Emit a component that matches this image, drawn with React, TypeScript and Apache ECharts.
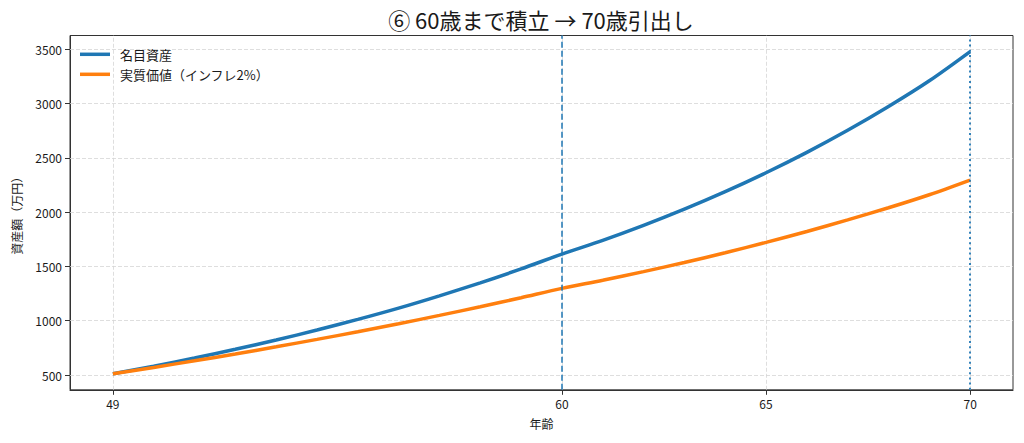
import React, { useEffect, useRef } from "react";
import * as echarts from "echarts";

const ages = [49, 50, 51, 52, 53, 54, 55, 56, 57, 58, 59, 60, 61, 62, 63, 64, 65, 66, 67, 68, 69, 70];
const nominal = [512, 582, 657, 737, 822, 914, 1012, 1116, 1229, 1349, 1477, 1614, 1740, 1878, 2027, 2188, 2362, 2550, 2753, 2972, 3209, 3478];
const real = [512, 570, 631, 694, 760, 828, 898, 972, 1049, 1128, 1212, 1298, 1372, 1452, 1536, 1626, 1721, 1821, 1928, 2040, 2160, 2295];
const xTicks = [49, 60, 65, 70];
const yTicks = [500, 1000, 1500, 2000, 2500, 3000, 3500];
const accumEndAge = 60;
const withdrawAge = 70;

const seriesNames = ["名目資産", "実質価値（インフレ2%）"];
const titleText = "⑥ 60歳まで積立 → 70歳引出し";

const FONT = '"Noto Sans CJK JP", "Noto Sans", sans-serif';
const TEXT = "#1a1a1a";

export default function App() {
  const ref = useRef<HTMLDivElement>(null);
  useEffect(() => {
    if (!ref.current) return;
    const chart = echarts.init(ref.current, undefined, { renderer: "svg" });
    const option: any = {
      animation: false,
      backgroundColor: "#ffffff",
      textStyle: { fontFamily: FONT },
      grid: {
        left: 70,
        right: 11,
        top: 35.5,
        bottom: 53.2,
        show: true,
        borderColor: "#333",
        borderWidth: 1,
        backgroundColor: "transparent",
      },
      graphic: [
        {
          type: "text",
          x: 541,
          y: 19,
          style: {
            text: titleText,
            fontSize: 22,
            fontFamily: FONT,
            fill: TEXT,
            textAlign: "center",
            textVerticalAlign: "middle",
          },
        },
      ],
      legend: {
        data: seriesNames,
        orient: "vertical",
        left: 80,
        top: 46.8,
        itemWidth: 30,
        itemHeight: 3.5,
        itemGap: 5,
        icon: "rect",
        padding: 0,
        textStyle: { fontSize: 13, color: TEXT, fontFamily: FONT, lineHeight: 15, padding: [0, 0, 0, 5] },
      },
      xAxis: {
        type: "value",
        min: 47.95,
        max: 71.05,
        name: "年齢",
        nameLocation: "middle",
        nameGap: 28,
        nameTextStyle: { fontSize: 12, color: TEXT, fontFamily: FONT },
        axisLine: { show: true, onZero: false, lineStyle: { color: "#333", width: 1 } },
        axisTick: { show: true, customValues: xTicks, length: 5, lineStyle: { color: "#333" } },
        axisLabel: { customValues: xTicks, fontSize: 12, color: TEXT, margin: 8, fontFamily: FONT, formatter: (v: number) => String(v) },
        splitLine: { show: false },
      },
      yAxis: {
        type: "value",
        min: 364,
        max: 3626,
        name: "資産額（万円）",
        nameLocation: "middle",
        nameGap: 48,
        nameTextStyle: { fontSize: 12, color: TEXT, fontFamily: FONT },
        axisLine: { show: true, onZero: false, lineStyle: { color: "#333", width: 1 } },
        axisTick: { show: true, customValues: yTicks, length: 5, lineStyle: { color: "#333" } },
        axisLabel: { customValues: yTicks, fontSize: 12, color: TEXT, margin: 8, fontFamily: FONT, formatter: (v: number) => String(v) },
        splitLine: { show: false },
      },
      series: [
        {
          name: "_grid",
          type: "line",
          data: [],
          silent: true,
          z: 1,
          markLine: {
            z: 1,
            silent: true,
            symbol: ["none", "none"],
            label: { show: false },
            lineStyle: { color: "#d6d6d6", type: [4, 2], width: 0.8 },
            emphasis: { disabled: true },
            data: [
              ...xTicks.map((v) => ({ xAxis: v })),
              ...yTicks.map((v) => ({ yAxis: v })),
            ],
          },
        },
        {
          name: seriesNames[0],
          type: "line",
          data: ages.map((a, i) => [a, nominal[i]]),
          showSymbol: false,
          symbol: "none",
          smooth: 0.3,
          color: "#1f77b4",
          lineStyle: { color: "#1f77b4", width: 3.5 },
          z: 3,
        },
        {
          name: seriesNames[1],
          type: "line",
          data: ages.map((a, i) => [a, real[i]]),
          showSymbol: false,
          symbol: "none",
          smooth: 0.3,
          color: "#ff7f0e",
          lineStyle: { color: "#ff7f0e", width: 3.5 },
          z: 3,
        },
        {
          name: "_refs",
          type: "line",
          data: [],
          silent: true,
          z: 4,
          markLine: {
            z: 6,
            silent: true,
            symbol: ["none", "none"],
            label: { show: false },
            emphasis: { disabled: true },
            data: [
              { xAxis: accumEndAge, lineStyle: { color: "#1f77b4", width: 1.5, type: [6, 3] } },
              { xAxis: withdrawAge, lineStyle: { color: "#1f77b4", width: 1.8, type: [2, 3.2] } },
            ],
          },
        },
      ],
    };
    chart.setOption(option);
    return () => chart.dispose();
  }, []);
  return (
    <div
      ref={ref}
      style={{ position: "absolute", left: 0, top: 0, width: 1024, height: 443, background: "#fff" }}
    />
  );
}
